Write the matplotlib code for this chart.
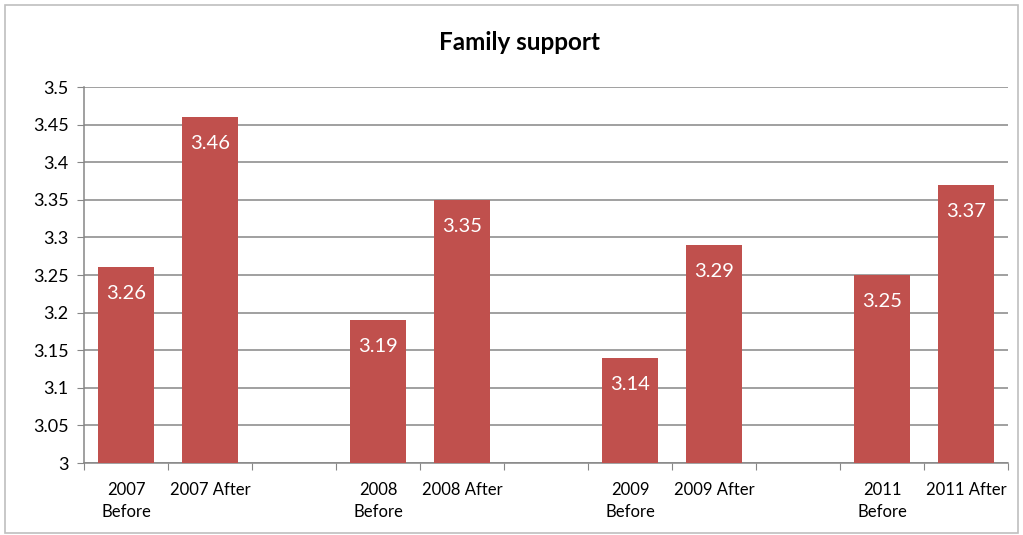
import matplotlib
matplotlib.use("Agg")
import matplotlib.pyplot as plt
from matplotlib.patches import Rectangle

# Survey scores, before/after, per year (blank slots separate the years)
categories = ["2007\nBefore", "2007 After", "",
              "2008\nBefore", "2008 After", "",
              "2009\nBefore", "2009 After", "",
              "2011\nBefore", "2011 After"]
scores = [3.26, 3.46, None,
          3.19, 3.35, None,
          3.14, 3.29, None,
          3.25, 3.37]
y_ticks = [3, 3.05, 3.1, 3.15, 3.2, 3.25, 3.3, 3.35, 3.4, 3.45, 3.5]

bar_color = "#C0504D"
grid_color = "#868686"

plt.rcParams["font.family"] = ["Lato", "DejaVu Sans"]

fig = plt.figure(figsize=(10.23, 5.35), dpi=100)
ax = fig.add_axes([84 / 1023, 1 - 463 / 535, 924 / 1023, 376 / 535])

# outer chart border
fig.patches.append(Rectangle((5 / 1023, 2 / 535), 1013 / 1023, 528 / 535,
                             transform=fig.transFigure, fill=False,
                             edgecolor="#BFBFBF", linewidth=1.2))

xs = [i for i, v in enumerate(scores) if v is not None]
vals = [v for v in scores if v is not None]
bars = ax.bar(xs, vals, width=0.667, color=bar_color, zorder=3, bottom=0)

for x, v in zip(xs, vals):
    ax.annotate(f"{v:.2f}", (x, v), xytext=(0, -19), textcoords="offset points",
                ha="center", va="center", color="white", fontsize=14.5, zorder=4)

ax.set_xlim(-0.5, len(categories) - 0.5)
ax.set_ylim(3, 3.5)
ax.set_yticks(y_ticks)
ax.set_yticklabels([f"{t:g}" for t in y_ticks], fontsize=13)
ax.yaxis.grid(True, color=grid_color, linewidth=1.1, zorder=0)
ax.set_axisbelow(True)

# tick marks sit between categories, labels at category centres
ax.set_xticks([i - 0.5 for i in range(len(categories) + 1)])
ax.set_xticklabels([])
ax.set_xticks(range(len(categories)), minor=True)
ax.set_xticklabels(categories, minor=True, fontsize=12, linespacing=1.45, va="top")
ax.tick_params(axis="x", which="minor", length=0, pad=14)
ax.tick_params(axis="x", which="major", length=5, color=grid_color, direction="out")
ax.tick_params(axis="y", length=5, color=grid_color, pad=6)

for side in ["top", "right"]:
    ax.spines[side].set_visible(False)
for side in ["left", "bottom"]:
    ax.spines[side].set_color(grid_color)
    ax.spines[side].set_linewidth(1.1)

fig.text(0.508, 1 - 42 / 535, "Family support", ha="center", va="center",
         fontsize=17.5, fontweight="bold")

fig.savefig("out.png", dpi=100)
